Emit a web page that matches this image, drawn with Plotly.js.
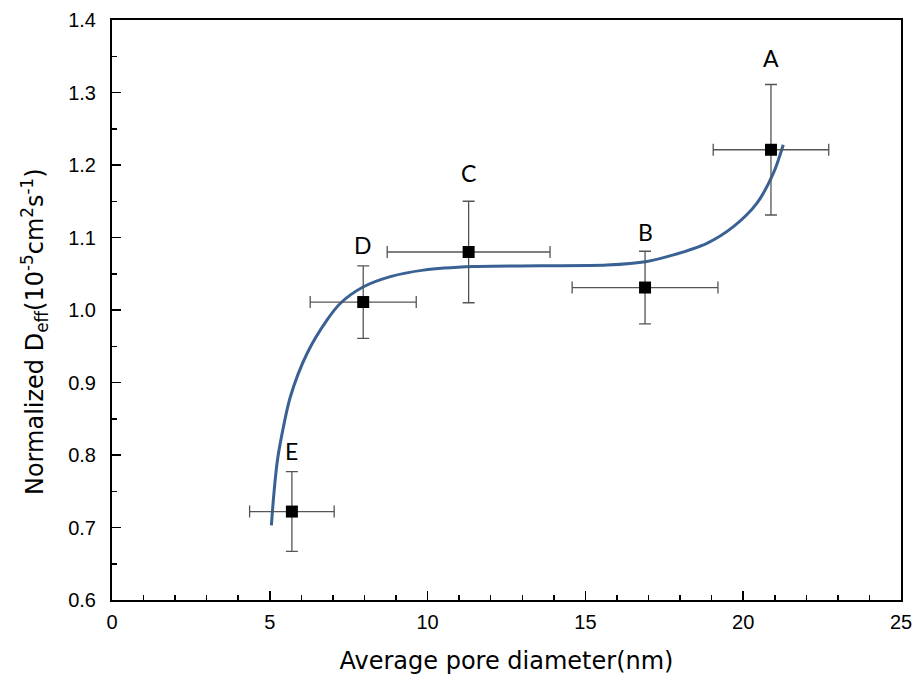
<!DOCTYPE html>
<html>
<head>
<meta charset="utf-8">
<script src="https://cdn.plot.ly/plotly-3.0.1.min.js"></script>
<style>
  html, body { margin: 0; padding: 0; background: #fff; }
  #chart { width: 917px; height: 685px; }
</style>
</head>
<body>
<div id="chart"></div>
<script>
// Sample labels and measured values
const sampleLabels = ['A', 'B', 'C', 'D', 'E'];
const poreDiameter = [20.88, 16.89, 11.30, 7.96, 5.70];
const poreDiameterErr = [1.83, 2.31, 2.58, 1.68, 1.34];
const deff = [1.221, 1.031, 1.080, 1.011, 0.722];
const deffErr = [0.09, 0.05, 0.07, 0.05, 0.055];
const labelY = [1.347, 1.108, 1.189, 1.090, 0.806];

// Fitted curve
const fitX = [5.05, 5.12, 5.23, 5.33, 5.65, 6.18, 6.81, 7.23, 7.97, 8.82, 9.87, 11.45, 13.57, 15.68, 16.95, 17.79, 18.85, 19.69, 20.43, 20.96, 21.27];
const fitY = [0.703, 0.742, 0.789, 0.816, 0.880, 0.940, 0.986, 1.009, 1.032, 1.046, 1.055, 1.060, 1.061, 1.062, 1.067, 1.076, 1.092, 1.115, 1.147, 1.189, 1.228];

// Axis ticks
const xTicks = [0, 5, 10, 15, 20, 25];
const yTicks = [0.6, 0.7, 0.8, 0.9, 1.0, 1.1, 1.2, 1.3, 1.4];

const xTitle = 'Average pore diameter(nm)';
const yTitle = 'Normalized D<sub>eff</sub>(10<sup>-5</sup>cm<sup>2</sup>s<sup>-1</sup>)';

const fitTrace = {
  x: fitX, y: fitY, type: 'scatter', mode: 'lines',
  line: { color: '#3A6193', width: 3, shape: 'spline', smoothing: 0.8 },
  hoverinfo: 'skip', showlegend: false
};

const pointTrace = {
  x: poreDiameter, y: deff, type: 'scatter', mode: 'markers',
  marker: { symbol: 'square', size: 12, color: '#000000' },
  error_x: { type: 'data', array: poreDiameterErr, visible: true, color: '#555555', thickness: 1.3, width: 6 },
  error_y: { type: 'data', array: deffErr, visible: true, color: '#555555', thickness: 1.3, width: 6 },
  text: sampleLabels, showlegend: false
};

const tickFont = { family: '"Liberation Sans", Arial, sans-serif', size: 20, color: '#000' };
const titleFont = { family: '"DejaVu Sans", "Liberation Sans", sans-serif', size: 24, color: '#000' };

const annotations = sampleLabels.map((lab, i) => ({
  x: poreDiameter[i], y: labelY[i], xref: 'x', yref: 'y',
  text: lab, showarrow: false, xanchor: 'center', yanchor: 'middle',
  font: { family: 'Lato, "Open Sans", sans-serif', size: 23, color: '#000' }
}));
// y-axis title, placed as in the reference (slightly below the plot centre)
annotations.push({
  xref: 'paper', yref: 'paper', x: 0, y: 0.462, xshift: -78,
  text: yTitle, textangle: -90, showarrow: false,
  xanchor: 'center', yanchor: 'middle', font: titleFont
});

const layout = {
  width: 917, height: 685,
  margin: { l: 112, r: 16, t: 20, b: 85, pad: 0 },
  paper_bgcolor: '#ffffff', plot_bgcolor: '#ffffff',
  font: tickFont,
  xaxis: {
    range: [0, 25], tickmode: 'array', tickvals: xTicks, ticktext: xTicks.map(String),
    ticks: 'inside', ticklen: 9, tickwidth: 1.5, tickcolor: '#000',
    minor: { dtick: 1, ticks: 'inside', ticklen: 5, tickwidth: 1.5, tickcolor: '#000', showgrid: false },
    showline: true, linecolor: '#000', linewidth: 2, mirror: true,
    showgrid: false, zeroline: false, tickfont: tickFont, ticklabelstandoff: 3,
    title: { text: xTitle, font: titleFont, standoff: 20 }
  },
  yaxis: {
    range: [0.6, 1.4], tickmode: 'array', tickvals: yTicks, ticktext: yTicks.map(v => v.toFixed(1)),
    ticks: 'inside', ticklen: 9, tickwidth: 1.5, tickcolor: '#000',
    minor: { dtick: 0.05, ticks: 'inside', ticklen: 5, tickwidth: 1.5, tickcolor: '#000', showgrid: false },
    showline: true, linecolor: '#000', linewidth: 2, mirror: true,
    showgrid: false, zeroline: false, tickfont: tickFont, ticklabelstandoff: 10
  },
  annotations: annotations
};

Plotly.newPlot('chart', [fitTrace, pointTrace], layout, { displayModeBar: false, staticPlot: true });
</script>
</body>
</html>
